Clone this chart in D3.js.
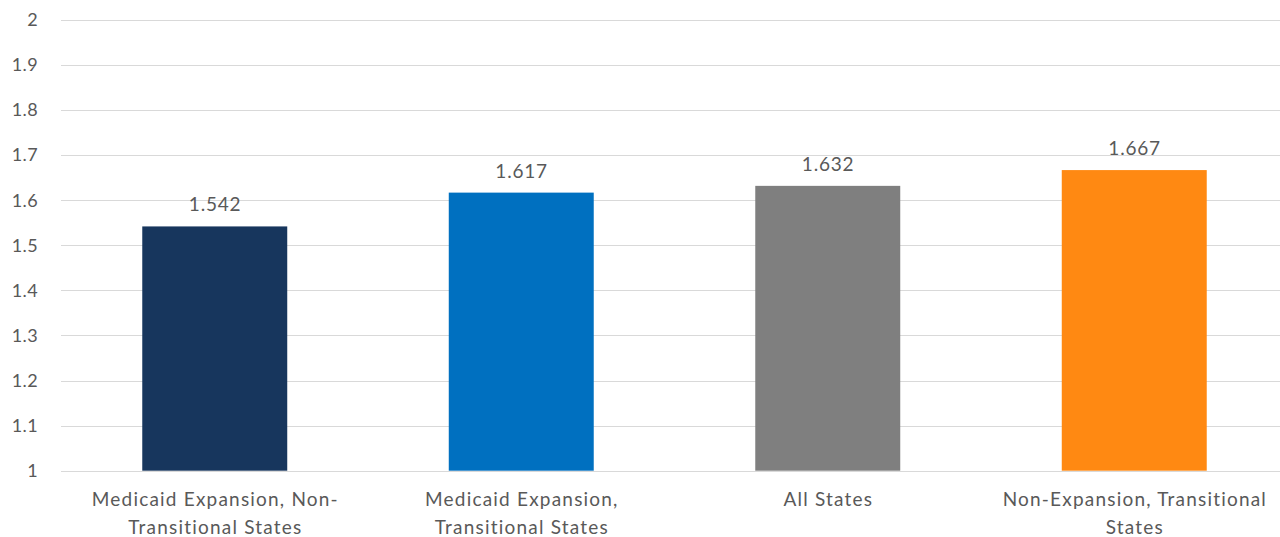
<!DOCTYPE html>
<html><head><meta charset="utf-8">
<script src="https://cdn.jsdelivr.net/npm/d3@7"></script>
<style>html,body{margin:0;padding:0;background:#fff;overflow:hidden}</style>
</head><body>
<svg id="chart" width="1280" height="537"></svg>
<script>
const categories = [["Medicaid Expansion, Non-","Transitional States"],["Medicaid Expansion,","Transitional States"],["All States"],["Non-Expansion, Transitional","States"]];
const values = [1.542, 1.617, 1.632, 1.667];
const colors = ["#17365D", "#0070C0", "#7F7F7F", "#FF8912"];
const yTicks = [1, 1.1, 1.2, 1.3, 1.4, 1.5, 1.6, 1.7, 1.8, 1.9, 2];

const svg = d3.select("#chart");
const font = "Lato, 'Open Sans', sans-serif";
const textColor = "#595959";

const x = d3.scaleBand().domain(d3.range(values.length)).range([61.5, 1287.5]).paddingInner(0.527).paddingOuter(0.2635);
const y = d3.scaleLinear().domain([1, 2]).range([470.7, 20]);

// gridlines
svg.append("g").selectAll("line").data(yTicks).join("line")
  .attr("x1", 61).attr("x2", 1280)
  .attr("y1", d => Math.round(y(d)) + 0.5).attr("y2", d => Math.round(y(d)) + 0.5)
  .attr("stroke", "#D9D9D9").attr("stroke-width", 1);

// y axis labels
const yAxis = d3.axisLeft(y).tickValues(yTicks).tickSize(0).tickPadding(0).tickFormat(d3.format("~g"));
const ga = svg.append("g").attr("transform", "translate(38,0)").call(yAxis);
ga.select(".domain").remove();
ga.selectAll("text").attr("fill", textColor).style("font-family", font).style("font-size", "18px").style("letter-spacing", "0.4px");

// bars
svg.append("g").selectAll("rect").data(values).join("rect")
  .attr("x", (d, i) => x(i)).attr("width", x.bandwidth())
  .attr("y", d => y(d)).attr("height", d => y(1) - y(d))
  .attr("fill", (d, i) => colors[i]);

// value labels
svg.append("g").selectAll("text").data(values).join("text")
  .attr("x", (d, i) => x(i) + x.bandwidth() / 2 + 0.4)
  .attr("y", d => y(d) - 15)
  .attr("text-anchor", "middle").attr("fill", textColor)
  .style("font-family", font).style("font-size", "19px").style("letter-spacing", "0.8px")
  .text(d => d3.format(".3f")(d));

// category labels
const cl = svg.append("g").selectAll("text").data(categories).join("text")
  .attr("text-anchor", "middle").attr("fill", textColor)
  .style("font-family", font).style("font-size", "19px").style("letter-spacing", "1.2px");
cl.each(function(lines, i) {
  const t = d3.select(this);
  lines.forEach((ln, j) => {
    t.append("tspan").attr("x", x(i) + x.bandwidth() / 2 + 0.6).attr("y", 505.7 + j * 28.3).text(ln);
  });
});
</script>
</body></html>
